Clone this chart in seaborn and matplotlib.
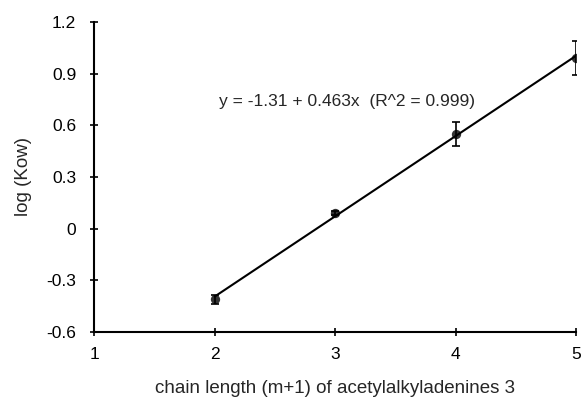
import matplotlib
matplotlib.use("Agg")
import matplotlib.pyplot as plt
import seaborn as sns
import pandas as pd

# data
chain_length = [2, 3, 4, 5]
log_kow = [-0.41, 0.09, 0.55, 0.99]
log_kow_err = [0.025, 0.012, 0.07, 0.10]
x_ticks = [1, 2, 3, 4, 5]
y_ticks = [-0.6, -0.3, 0, 0.3, 0.6, 0.9, 1.2]
y_tick_labels = ["-0.6", "-0.3", "0", "0.3", "0.6", "0.9", "1.2"]
fit_label = "y = -1.31 + 0.463x  (R^2 = 0.999)"

df = pd.DataFrame({"chain": chain_length, "logkow": log_kow, "err": log_kow_err})

sns.set_style("ticks")
plt.rcParams['font.family'] = ['Liberation Sans', 'DejaVu Sans']

fig = plt.figure(figsize=(5.85, 4.13), dpi=100)
ax = fig.add_axes([0.161, 0.196, 0.824, 0.751])

sns.regplot(data=df, x="chain", y="logkow", ci=None, color="black", ax=ax,
            scatter_kws={"s": 45, "zorder": 3, "linewidths": 0},
            line_kws={"linewidth": 1.5})
ax.errorbar(df["chain"], df["logkow"], yerr=df["err"], fmt="none",
            ecolor="black", elinewidth=1.2, capsize=3, capthick=1.2)

ax.set_xlim(1, 5)
ax.set_ylim(-0.6, 1.2)
ax.set_xticks(x_ticks)
ax.set_yticks(y_ticks)
ax.set_yticklabels(y_tick_labels)
ax.tick_params(direction="inout", length=6, width=1.2, labelsize=12.5, colors="black")
ax.tick_params(axis="x", pad=8)
ax.tick_params(axis="y", pad=10)
for s in ["left", "bottom"]:
    ax.spines[s].set_linewidth(1.5)
    ax.spines[s].set_color("black")
sns.despine(ax=ax)
ax.spines["left"].set_zorder(5)
ax.spines["bottom"].set_zorder(5)

ax.set_xlabel("chain length (m+1) of acetylalkyladenines 3", fontsize=13.5, labelpad=13)
ax.set_ylabel("log (Kow)", fontsize=13.5, labelpad=10)
ax.text(3.1, 0.738, fit_label, fontsize=12.5, ha="center", va="center")

fig.savefig("out.png", dpi=100)
